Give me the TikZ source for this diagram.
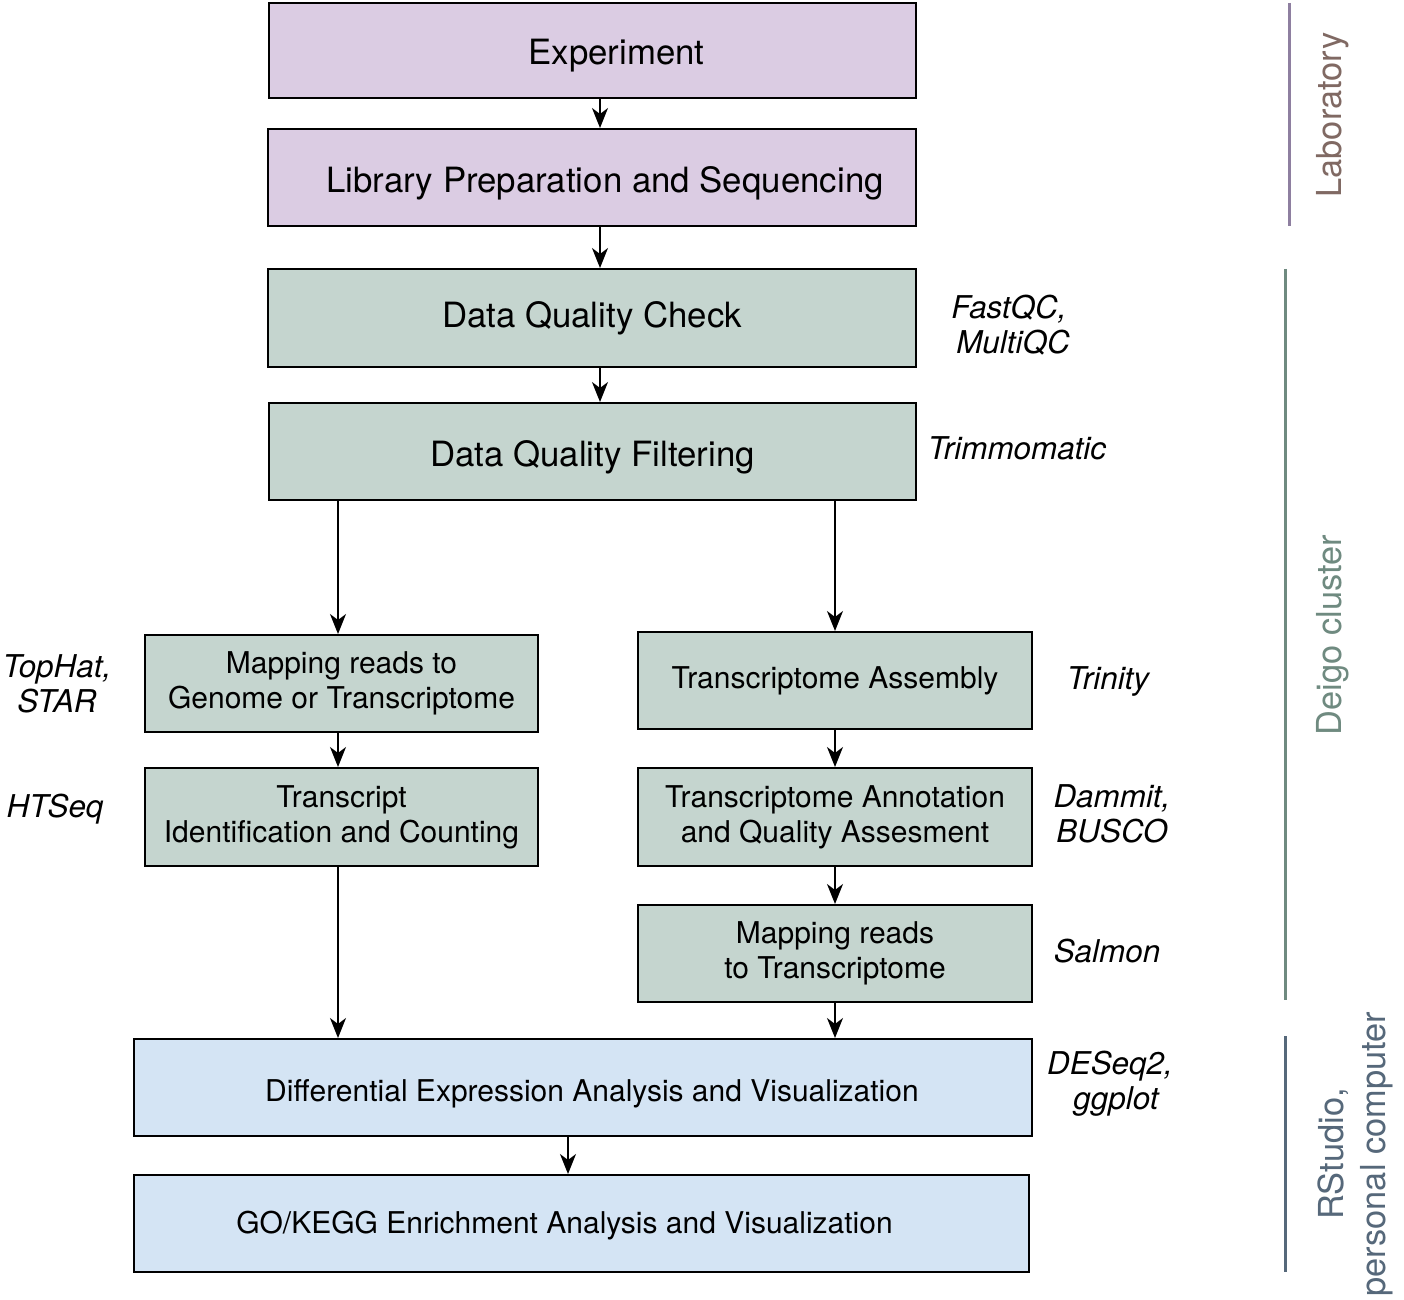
\documentclass[tikz,border=0pt]{standalone}
\usepackage{fontspec}
\setmainfont{TeX Gyre Heros}
\usetikzlibrary{arrows.meta}
\definecolor{labfill}{HTML}{DBCCE3}
\definecolor{clfill}{HTML}{C5D5CF}
\definecolor{pcfill}{HTML}{D4E4F4}
\definecolor{labline}{HTML}{8E7FA0}
\definecolor{labtext}{HTML}{806963}
\definecolor{clline}{HTML}{6F8A80}
\definecolor{pcline}{HTML}{56687A}
\newcommand{\lowertext}[2]{\raisebox{-#1}[\height][\depth]{#2}}
\tikzset{
  box/.style={draw=black, line width=1pt, rectangle, inner sep=0pt, align=center},
  bigbox/.style={box, font=\fontsize{17.4pt}{21pt}\selectfont},
  midbox/.style={box, font=\fontsize{15pt}{17.5pt}\selectfont},
  arr/.style={line width=0.75pt, -{Stealth[length=10pt,width=8pt,inset=3pt]}},
  tool/.style={font=\fontsize{15.7pt}{17.5pt}\itshape\selectfont, align=center},
  side/.style={rotate=90, font=\fontsize{17.2pt}{21pt}\selectfont, align=center},
}
\begin{document}
\begin{tikzpicture}[x=0.5pt,y=-0.5pt]
\useasboundingbox[fill=white] (0,0) rectangle (1404,1300);
% boxes
\node[bigbox, fill=labfill, minimum width=323.5pt, minimum height=47.5pt] (exp) at (592.5,50.5) {\lowertext{2.5pt}{\hspace*{24pt}Experiment}};
\node[bigbox, fill=labfill, minimum width=324pt, minimum height=48.5pt] (lib) at (592,177.5) {\lowertext{3pt}{\hspace*{13pt}Library Preparation and Sequencing}};
\node[bigbox, fill=clfill, minimum width=324pt, minimum height=49pt] (dqc) at (592,318) {Data Quality Check};
\node[bigbox, fill=clfill, minimum width=323.5pt, minimum height=48.5pt] (dqf) at (592.5,451.5) {\lowertext{3pt}{Data Quality Filtering}};
\node[midbox, fill=clfill, minimum width=196.5pt, minimum height=48.5pt] (mapg) at (341.5,683.5) {Mapping reads to\\Genome or Transcriptome};
\node[midbox, fill=clfill, minimum width=196.5pt, minimum height=49pt] (tic) at (341.5,817) {Transcript\\Identification and Counting};
\node[midbox, fill=clfill, minimum width=197pt, minimum height=48.5pt] (ta) at (835,680.5) {Transcriptome Assembly};
\node[midbox, fill=clfill, minimum width=197pt, minimum height=49pt] (taq) at (835,817) {Transcriptome Annotation\\and Quality Assesment};
\node[midbox, fill=clfill, minimum width=197pt, minimum height=48.5pt] (mapt) at (835,953.5) {Mapping reads\\to Transcriptome};
\node[midbox, fill=pcfill, minimum width=449pt, minimum height=48.5pt] (dea) at (583,1087.5) {\lowertext{3pt}{\hspace*{9pt}Differential Expression Analysis and Visualization}};
\node[midbox, fill=pcfill, minimum width=447.5pt, minimum height=48.5pt] (go) at (581.5,1223.5) {\lowertext{1pt}{GO/KEGG Enrichment Analysis and Visualization\hspace*{17pt}}};
% arrows
\draw[arr] (600,0 |- exp.south) -- (600,0 |- lib.north);
\draw[arr] (600,0 |- lib.south) -- (600,0 |- dqc.north);
\draw[arr] (600,0 |- dqc.south) -- (600,0 |- dqf.north);
\draw[arr] (338,0 |- dqf.south) -- (338,0 |- mapg.north);
\draw[arr] (835,0 |- dqf.south) -- (835,0 |- ta.north);
\draw[arr] (338,0 |- mapg.south) -- (338,0 |- tic.north);
\draw[arr] (338,0 |- tic.south) -- (338,0 |- dea.north);
\draw[arr] (ta.south) -- (taq.north);
\draw[arr] (taq.south) -- (mapt.north);
\draw[arr] (mapt.south) -- (835,0 |- dea.north);
\draw[arr] (568,0 |- dea.south) -- (568,0 |- go.north);
% tools
\node[tool] (t1) at (1009,325) {FastQC,\\\hspace*{4pt}MultiQC};
\node[tool] (t2) at (1017,448) {Trimmomatic};
\node[tool] (t3) at (57,684) {TopHat,\\STAR};
\node[tool] (t4) at (55,809) {HTSeq};
\node[tool] (t5) at (1108,681) {Trinity};
\node[tool] (t6) at (1112,814) {Dammit,\\BUSCO};
\node[tool] (t7) at (1107,951) {Salmon};
\node[tool] (t8) at (1110,1084) {DESeq2,\\\hspace*{6pt}ggplot};
% side bars
\draw[labline, line width=1.5pt] (1289,3) coordinate (l1) -- (1289,226) coordinate (l2);
\node[side, text=labtext] (lab) at (1333,115) {Laboratory};
\draw[clline, line width=1.5pt] (1285,269) coordinate (c1) -- (1285,1000) coordinate (c2);
\node[side, text=clline] (clu) at (1333,635) {Deigo cluster};
\draw[pcline, line width=1.5pt] (1285,1036) coordinate (p1) -- (1285,1272) coordinate (p2);
\node[side, text=pcline] (pc) at (1355,1154) {RStudio,\\personal computer};
\end{tikzpicture}
\end{document}
